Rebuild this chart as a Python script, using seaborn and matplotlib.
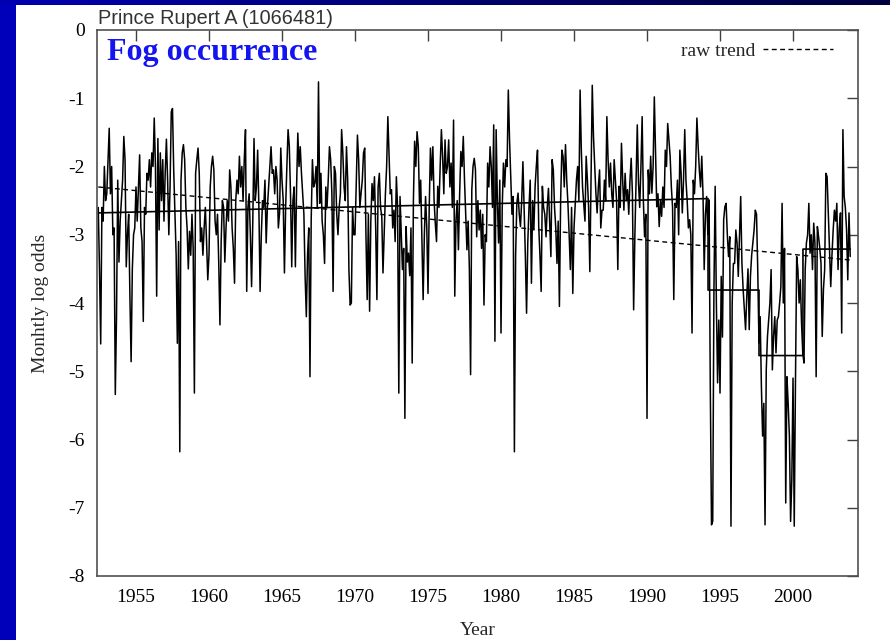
import numpy as np
import pandas as pd
import matplotlib
matplotlib.use("Agg")
import matplotlib.pyplot as plt
from matplotlib.patches import Rectangle
import seaborn as sns

# Monthly log odds of fog occurrence, Prince Rupert A (1066481)
# June 1952 - December 1959
odds_1950s = [
    -2.6, -3.5, -4.6, -2.6, -2.8, -2.0, -2.5,
    -2.4, -1.9, -1.44, -2.4, -2.0, -3.0, -2.9, -5.34, -4.2, -2.2, -3.4, -2.8,
    -2.5, -2.2, -1.56, -1.9, -3.47, -3.0, -2.7, -3.9, -4.86, -3.5, -3.0, -2.9,
    -2.3, -2.8, -2.3, -1.83, -2.9, -3.1, -4.27, -2.6, -2.7, -2.1, -2.2, -1.9,
    -2.3, -1.8, -2.0, -1.29, -2.0, -3.9, -1.59, -2.93, -1.8, -2.5, -1.9, -2.8,
    -2.1, -1.6, -2.2, -3.0, -2.3, -1.2, -1.15, -2.05, -2.7, -3.3, -4.59, -3.1,
    -6.18, -2.2, -1.8, -1.68, -1.9, -2.6, -2.9, -3.5, -2.95, -3.3, -2.7, -3.2,
    -5.32, -2.1, -1.9, -1.73, -2.1, -3.1, -2.9, -3.3, -2.9, -2.6, -3.1, -3.66,
]
odds_1960s = [
    -3.3, -2.3, -2.0, -1.85, -2.05, -2.8, -3.0, -2.7, -3.4, -4.32, -3.1, -2.5,
    -2.6, -3.4, -2.9, -2.5, -2.8, -2.05, -2.3, -2.9, -3.2, -3.71, -2.5, -2.2,
    -2.4, -1.85, -2.3, -2.0, -2.5, -1.9, -1.46, -3.83, -2.6, -2.4, -3.0, -3.76,
    -2.8, -1.59, -2.5, -2.3, -1.76, -2.6, -3.83, -3.0, -2.5, -2.6, -2.2, -3.12,
    -2.6, -2.3, -2.0, -1.71, -2.1, -2.05, -2.4, -2.0, -2.2, -2.9, -2.68, -1.73,
    -2.2, -2.5, -3.56, -2.6, -2.0, -1.46, -1.7, -2.4, -3.47, -2.5, -2.3, -3.47,
    -2.3, -1.51, -2.0, -1.71, -2.1, -2.4, -2.7, -3.61, -4.2, -3.3, -2.9, -5.08,
    -2.78, -1.9, -2.3, -2.24, -2.0, -2.6, -0.76, -2.54, -2.1, -2.8, -3.0, -3.42,
    -2.3, -2.6, -2.2, -1.71, -1.9, -2.4, -3.83, -2.0, -2.1, -2.7, -3.0, -2.6,
    -2.4, -1.46, -1.8, -2.3, -2.5, -1.71, -2.2, -3.51, -4.03, -4.0, -2.6, -3.0,
]
odds_1970s = [
    -3.0, -2.3, -1.54, -1.9, -2.6, -2.39, -2.2, -1.8, -1.73, -3.0, -3.95, -2.7,
    -4.12, -2.8, -2.25, -2.5, -2.15, -2.9, -3.95, -2.3, -2.1, -2.6, -2.73, -3.56,
    -3.0, -2.4, -2.0, -1.27, -1.85, -2.4, -2.34, -2.9, -2.64, -3.1, -2.15, -2.6,
    -5.32, -2.44, -3.0, -3.51, -3.2, -5.69, -2.88, -3.4, -3.27, -3.6, -2.9, -4.88,
    -2.5, -1.63, -2.0, -1.49, -1.7, -2.54, -2.2, -3.1, -3.95, -3.0, -2.44, -2.9,
    -3.86, -2.6, -1.73, -2.2, -1.71, -2.5, -2.83, -3.1, -2.29, -2.6, -2.0, -1.46,
    -1.85, -2.4, -1.61, -2.1, -2.0, -1.61, -2.3, -1.95, -2.6, -1.32, -3.9, -2.78,
    -2.5, -3.22, -2.4, -1.78, -2.0, -1.56, -2.2, -2.7, -3.22, -2.8, -3.5, -5.05,
    -2.34, -2.0, -1.88, -2.05, -3.03, -2.5, -2.93, -2.64, -3.2, -2.7, -4.03, -3.0,
    -3.1, -1.95, -2.3, -1.71, -2.0, -2.6, -1.39, -4.56, -1.46, -2.5, -3.12, -2.2,
]
odds_1980s = [
    -4.44, -2.6, -1.95, -2.3, -1.9, -2.0, -0.88, -1.6, -2.15, -2.7, -2.44, -6.18,
    -3.3, -2.54, -2.39, -2.7, -2.88, -2.5, -1.93, -2.64, -3.3, -4.15, -3.12, -2.6,
    -2.2, -3.71, -2.5, -2.93, -2.3, -2.0, -1.76, -2.88, -3.3, -3.83, -2.29, -2.6,
    -2.7, -3.03, -2.6, -2.32, -2.8, -3.32, -1.9, -2.05, -2.6, -2.9, -3.42, -2.8,
    -4.05, -2.5, -1.76, -1.85, -2.3, -1.68, -2.2, -2.54, -3.0, -3.51, -2.6, -3.86,
    -2.9, -2.54, -2.2, -2.0, -2.5, -0.88, -1.76, -2.3, -2.54, -2.8, -1.85, -2.2,
    -2.6, -3.54, -2.2, -0.81, -1.56, -2.0, -2.4, -2.68, -2.3, -2.05, -2.9, -2.64,
    -2.64, -2.2, -2.5, -1.27, -1.9, -2.3, -1.95, -2.4, -2.6, -1.9, -2.2, -2.5,
    -3.51, -2.29, -2.6, -1.66, -2.2, -2.64, -2.1, -2.5, -2.34, -2.7, -2.2, -1.88,
    -2.4, -4.1, -3.03, -2.2, -1.39, -2.24, -2.6, -2.0, -1.27, -2.5, -3.03, -2.7,
]
odds_1990s = [
    -5.69, -2.05, -2.4, -1.85, -2.39, -2.0, -0.98, -1.8, -2.59, -2.4, -2.88, -2.5,
    -2.73, -2.3, -2.6, -1.76, -2.0, -1.37, -1.6, -1.85, -2.3, -2.6, -3.95, -2.54,
    -2.6, -2.2, -3.0, -1.76, -2.1, -2.68, -2.2, -1.46, -2.2, -2.5, -2.9, -2.78,
    -3.0, -4.44, -2.2, -2.4, -2.0, -1.29, -1.7, -2.05, -2.3, -1.85, -2.4, -3.51,
    -2.7, -2.44, -3.0, -2.49, -5.22, -7.25, -7.2, -3.8, -2.29, -4.0, -5.17, -4.25,
    -5.32, -3.61, -4.5, -2.78, -2.59, -2.54, -3.0, -3.32, -3.03, -7.27, -4.0, -3.42,
    -3.42, -2.93, -3.12, -3.61, -3.0, -2.44, -3.42, -3.8, -4.1, -4.39, -3.9, -3.5,
    -4.39, -3.61, -3.3, -3.12, -2.93, -2.64, -2.7, -3.51, -4.59, -4.2, -5.22, -5.95,
    -5.47, -7.25, -4.98, -4.49, -4.25, -4.0, -3.51, -4.98, -4.49, -4.2, -4.73, -4.25,
    -4.2, -4.0, -3.76, -2.54, -4.0, -3.2, -6.93, -5.08, -5.47, -5.95, -7.2, -6.59,
]
odds_2000s = [
    -5.1, -7.27, -5.17, -3.32, -3.51, -4.0, -3.66, -4.3, -4.73, -4.88, -3.51, -3.12,
    -3.0, -2.54, -3.27, -3.0, -3.51, -2.83, -3.12, -5.08, -2.88, -3.03, -3.2, -3.42,
    -4.49, -3.8, -3.51, -2.1, -2.15, -2.7, -3.27, -3.76, -3.3, -2.93, -2.64, -2.8,
    -2.54, -3.51, -2.9, -2.68, -4.44, -1.46, -2.44, -2.6, -2.93, -3.66, -2.68, -3.32,
]
first_month = 1952 + 5 / 12  # June 1952

# Linear "raw trend" end points
raw_trend_years = [1952.42, 2003.92]
raw_trend_values = [-2.30, -3.37]

# Segment means (homogenised level), with breaks
segment_years = [1952.42, 1994.18, 1994.18, 1997.67, 1997.67, 2000.68, 2000.68, 2003.92]
segment_values = [-2.68, -2.47, -3.81, -3.81, -4.77, -4.77, -3.21, -3.21]

x_ticks = [1955, 1960, 1965, 1970, 1975, 1980, 1985, 1990, 1995, 2000]
y_ticks = [0, -1, -2, -3, -4, -5, -6, -7, -8]

values = odds_1950s + odds_1960s + odds_1970s + odds_1980s + odds_1990s + odds_2000s
months = first_month + np.arange(len(values)) / 12.0
df = pd.DataFrame({"year": months, "log_odds": values})

sns.set_theme(style="white")
plt.rcParams["font.family"] = ["Liberation Serif", "DejaVu Serif"]

W, H = 890, 640
fig = plt.figure(figsize=(W / 100, H / 100), dpi=100)
fig.patch.set_facecolor("white")

# Slide frame: blue strip on the left, dark gradient along the top
fig.add_artist(Rectangle((0, 0), 16 / W, 1, transform=fig.transFigure,
                         facecolor="#0000bb", edgecolor="none", zorder=0))
band = fig.add_axes([0, 1 - 5 / H, 1, 5 / H])
grad = np.linspace(0, 1, 256)[None, :]
cmap = matplotlib.colors.LinearSegmentedColormap.from_list(
    "band", ["#0000b0", "#000070", "#000040"])
band.imshow(grad, aspect="auto", cmap=cmap, extent=[0, 1, 0, 1])
band.set_axis_off()

ax = fig.add_axes([97 / W, 1 - 576 / H, (858 - 97) / W, (576 - 30) / H])
ax.set_facecolor("white")

sns.lineplot(data=df, x="year", y="log_odds", ax=ax, color="black",
             linewidth=1.1, estimator=None, sort=False, legend=False)
ax.plot(segment_years, segment_values, color="black", linewidth=1.2)
ax.plot(raw_trend_years, raw_trend_values, color="black", linewidth=1.0,
        linestyle=(0, (3.5, 2.5)), label="raw trend")

ax.set_xlim(1952.33, 2004.45)
ax.set_ylim(-8, 0)
ax.set_xticks(x_ticks)
ax.set_yticks(y_ticks)
ax.set_xticklabels([str(t) for t in x_ticks])
ax.set_yticklabels([str(t) for t in y_ticks])
ax.tick_params(direction="in", length=8, width=1, color="#404040",
               top=True, right=True, labelsize=14, pad=9, labelcolor="black")
for side in ax.spines.values():
    side.set_color("#505050")
    side.set_linewidth(1.2)

ax.set_xlabel("Year", fontsize=14)
ax.set_ylabel("Monhtly log odds", fontsize=14)
ax.xaxis.set_label_coords(0.5, -0.084)
ax.yaxis.set_label_coords(-0.063, 0.5)

leg = ax.legend(loc="upper right", bbox_to_anchor=(0.967, 0.978), frameon=False,
                markerfirst=False, fontsize=14, handlelength=3.6,
                handletextpad=0.4, borderpad=0, borderaxespad=0)

fig.text(98 / W, 1 - 24.5 / H, "Prince Rupert A (1066481)", fontsize=14.3,
         family=["Liberation Sans", "DejaVu Sans"], color="#333333",
         ha="left", va="baseline")
ax.text(107 / W, 1 - 60 / H, "Fog occurrence", transform=fig.transFigure,
        fontsize=23, fontweight="bold", color="#1414f0",
        family=["Liberation Serif", "DejaVu Serif"], ha="left", va="baseline")

fig.savefig("out.png", dpi=100)
